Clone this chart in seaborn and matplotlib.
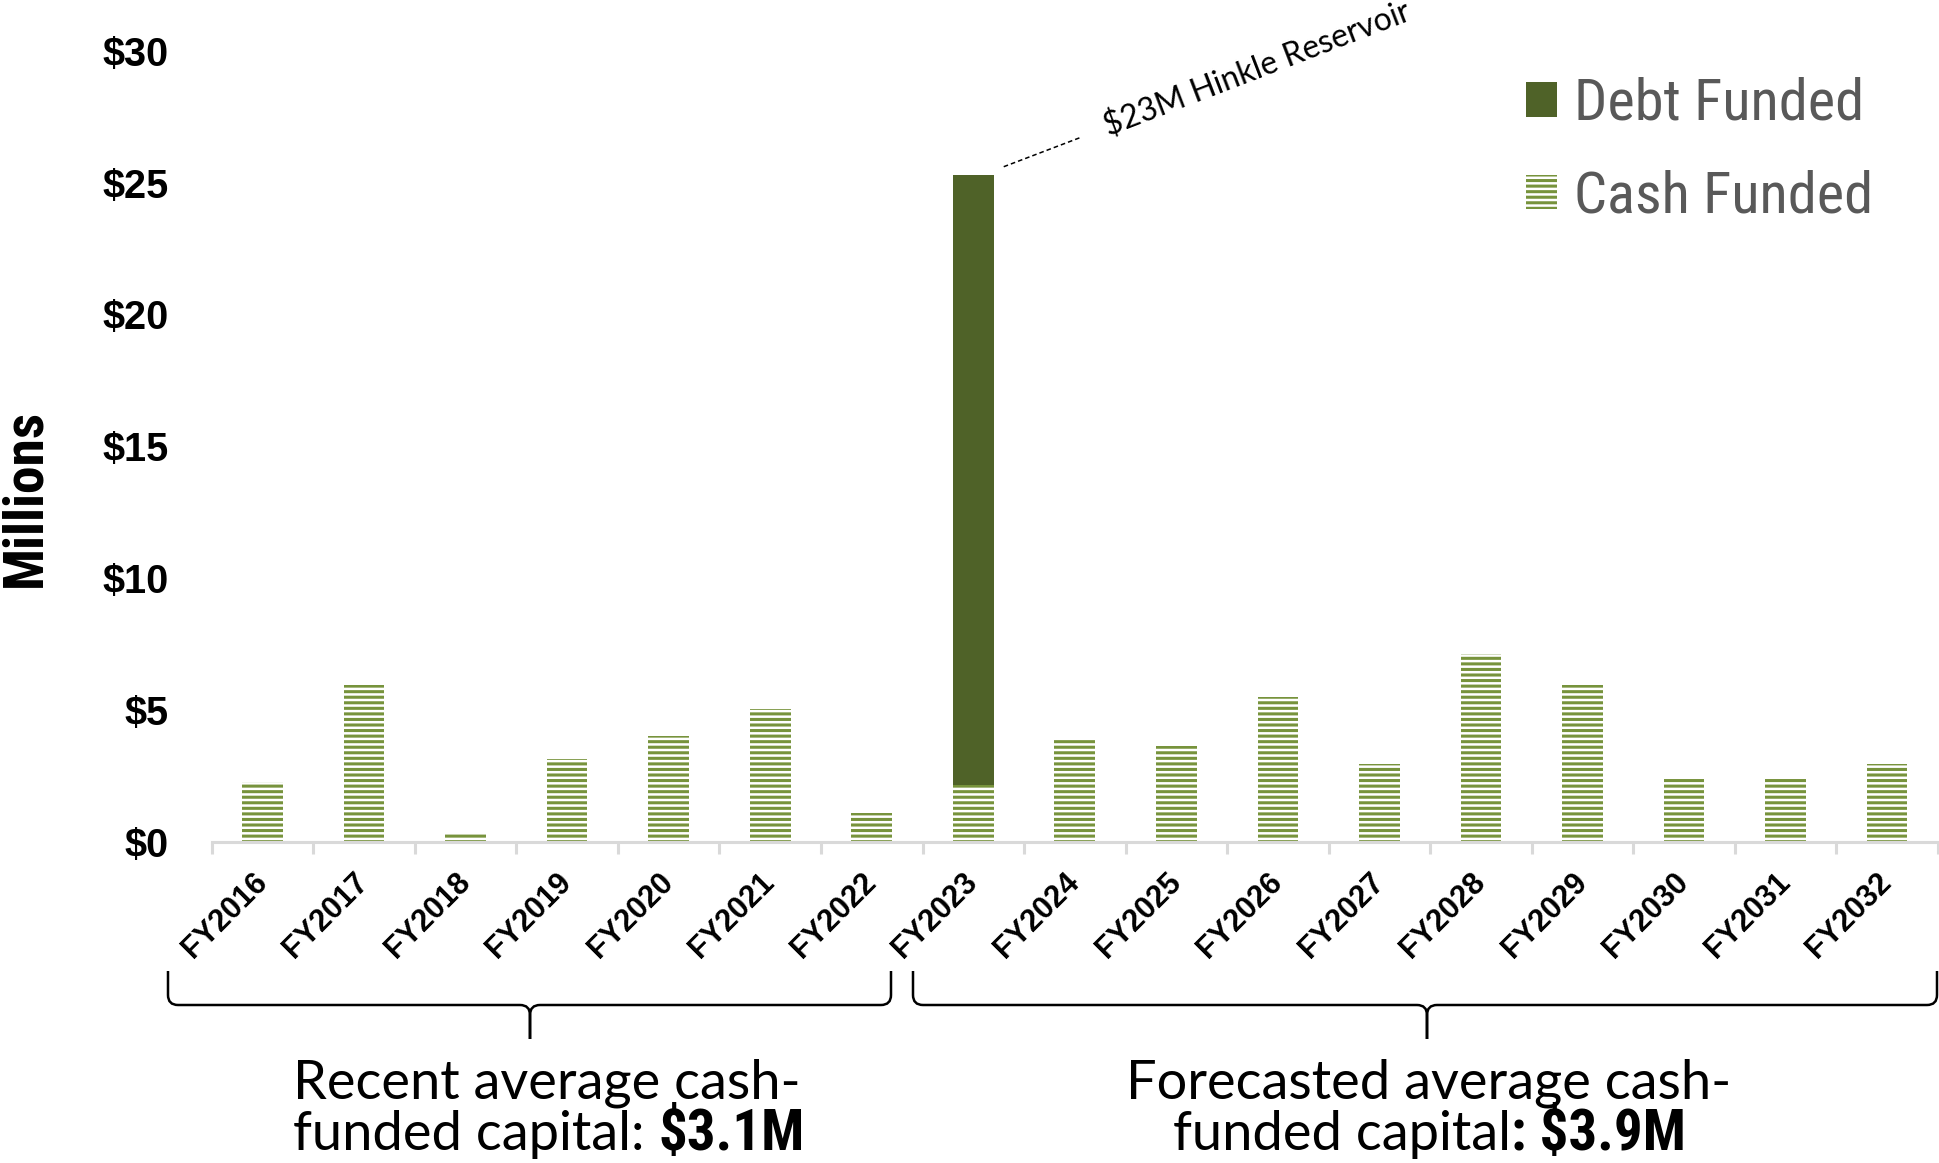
import numpy as np
import pandas as pd
import matplotlib
matplotlib.use("Agg")
import matplotlib.pyplot as plt
import seaborn as sns
from matplotlib import font_manager as fm
from matplotlib.font_manager import FontProperties
from matplotlib.patches import Patch, PathPatch
from matplotlib.path import Path

# ---------------- data ----------------
years = ["FY2016", "FY2017", "FY2018", "FY2019", "FY2020", "FY2021", "FY2022",
         "FY2023", "FY2024", "FY2025", "FY2026", "FY2027", "FY2028", "FY2029",
         "FY2030", "FY2031", "FY2032"]
cash_funded = [2.25, 5.94, 0.33, 3.14, 4.02, 5.02, 1.09,
               2.14, 3.90, 3.62, 5.49, 2.93, 7.11, 5.93, 2.44, 2.44, 2.93]
debt_funded = [0, 0, 0, 0, 0, 0, 0,
               23.16, 0, 0, 0, 0, 0, 0, 0, 0, 0]
y_ticks = [0, 5, 10, 15, 20, 25, 30]
y_tick_labels = ["$0", "$5", "$10", "$15", "$20", "$25", "$30"]
annotation_text = "$23M Hinkle Reservoir"
legend_labels = ["Debt Funded", "Cash Funded"]
recent_avg = "$3.1M"
forecast_avg = "$3.9M"

DEBT_COLOR = "#4f6228"
CASH_COLOR = "#77933c"

# ---------------- style ----------------
sns.set_theme(style="white")
plt.rcParams["font.family"] = ["Liberation Sans", "DejaVu Sans"]
plt.rcParams["hatch.linewidth"] = 2.2
plt.rcParams["hatch.color"] = CASH_COLOR

names = {f.name for f in fm.fontManager.ttflist}
GEO = ["Lato", "DejaVu Sans"] if "Lato" in names else ["DejaVu Sans"]


def find_condensed(bold):
    cands = []
    for f in fm.fontManager.ttflist:
        cond = ("Narrow" in f.name or "Condensed" in f.name
                or f.stretch in ("condensed", "semi-condensed", "extra-condensed")
                or (isinstance(f.stretch, int) and f.stretch <= 87))
        if not cond or f.style != "normal":
            continue
        w = f.weight if isinstance(f.weight, int) else (700 if f.weight == "bold" else 400)
        if bold and w < 600:
            continue
        if not bold and (w >= 600 or w < 350):
            continue
        pri = 0 if "Liberation" in f.name else (1 if "Roboto" in f.name else 2)
        cands.append((pri, f.fname))
    cands.sort()
    return cands[0][1] if cands else None


cond_bold = find_condensed(True)
cond_reg = find_condensed(False)


def fp_bold(size, fallback_size):
    if cond_bold:
        return FontProperties(fname=cond_bold, size=size)
    return FontProperties(family="Liberation Sans", weight="bold", size=fallback_size)


def fp_reg(size, fallback_size):
    if cond_reg:
        return FontProperties(fname=cond_reg, size=size)
    return FontProperties(family="Liberation Sans", size=fallback_size)


W, H = 1940, 1163
fig = plt.figure(figsize=(W / 100, H / 100), dpi=100)
ax = fig.add_axes([211.8 / W, 1 - 841.7 / H, 1726 / W, (841.7 - 50.7) / H])

df = pd.DataFrame({"year": years, "cash": cash_funded, "debt": debt_funded})
df["debt_top"] = np.where(df["debt"] > 0, df["cash"] + df["debt"], 0.0)

sns.barplot(data=df, x="year", y="debt_top", order=years, color=DEBT_COLOR,
            saturation=1, width=0.4, linewidth=0, ax=ax)
sns.barplot(data=df, x="year", y="cash", order=years, color="white",
            saturation=1, width=0.4, linewidth=0, edgecolor=CASH_COLOR,
            hatch="---", ax=ax)

ax.set_xlim(-0.5, len(years) - 0.5)
ax.set_ylim(0, 30)
ax.set_xlabel("")
ax.set_ylabel("")
for s in ["top", "right", "left"]:
    ax.spines[s].set_visible(False)
ax.spines["bottom"].set_color("#d9d9d9")
ax.spines["bottom"].set_linewidth(2.2)

ax.set_yticks(y_ticks)
ax.set_yticklabels(y_tick_labels, fontsize=28.5, fontweight="bold", color="black")
ax.tick_params(axis="y", length=0, pad=31)

ax.set_xticks(range(len(years)))
ax.set_xticklabels(years, fontsize=22, fontweight="bold", color="black")
ax.tick_params(axis="x", which="major", length=0, pad=26)
for lab in ax.get_xticklabels():
    lab.set_rotation(45)
    lab.set_ha("right")
    lab.set_va("center")
    lab.set_rotation_mode("anchor")
ax.set_xticks(np.arange(-0.5, len(years), 1), minor=True)
ax.tick_params(axis="x", which="minor", length=8.6, width=2.2, color="#d9d9d9",
               direction="out", bottom=True)
ax.grid(False)

# y-axis title
fig.text(25 / W, 1 - 498 / H, "Millions", rotation=90, ha="center", va="center",
         fontproperties=fp_bold(40, 34), color="black")

# annotation for the debt-funded bar
idx = int(np.argmax(df["debt"].values))
top = df["cash"][idx] + df["debt"][idx]
ax.plot([idx + 0.3, idx + 1.05], [top + 0.3, top + 1.4], ls=(0, (3, 2)),
        color="black", lw=1.1, clip_on=False)
ax.text(idx + 2.8, top + 4.0, annotation_text, rotation=21, rotation_mode="anchor",
        ha="center", va="center", fontsize=23, family=GEO, color="black", clip_on=False)

# legend
handles = [Patch(facecolor=DEBT_COLOR, edgecolor="none", linewidth=0),
           Patch(facecolor="white", edgecolor=CASH_COLOR, hatch="---", linewidth=0)]
leg_fp = fp_reg(42, 36)
fs = leg_fp.get_size_in_points()
fig.legend(handles, legend_labels, loc="upper left",
           bbox_to_anchor=(1526 / W, 1 - 77 / H), frameon=False,
           prop=leg_fp, labelcolor="#595959",
           handlelength=22.3 / fs, handleheight=22.3 / fs,
           handletextpad=0.3, labelspacing=27.0 / fs, borderpad=0, borderaxespad=0)


# braces
def px(x, y):
    return (x / W, 1 - y / H)


def brace(x0, x1, xc, ytop, yline, ytip, r=10):
    verts = [px(x0, ytop), px(x0, yline - r), px(x0, yline), px(x0 + r, yline),
             px(xc - r, yline), px(xc, yline), px(xc, yline + r), px(xc, ytip),
             px(xc, ytip), px(xc, yline + r), px(xc, yline), px(xc + r, yline),
             px(x1 - r, yline), px(x1, yline), px(x1, yline - r), px(x1, ytop)]
    codes = [Path.MOVETO, Path.LINETO, Path.CURVE3, Path.CURVE3,
             Path.LINETO, Path.CURVE3, Path.CURVE3, Path.LINETO,
             Path.MOVETO, Path.LINETO, Path.CURVE3, Path.CURVE3,
             Path.LINETO, Path.CURVE3, Path.CURVE3, Path.LINETO]
    fig.add_artist(PathPatch(Path(verts, codes), transform=fig.transFigure,
                             fill=False, lw=1.8, edgecolor="black",
                             capstyle="butt"))


brace(168, 891, 530, 971, 1005, 1039)
brace(913, 1937, 1427, 971, 1005, 1039)

# bottom summary texts
GEO_SIZE = 39
fig.canvas.draw()
renderer = fig.canvas.get_renderer()


def mixed_line(cx, ybase, parts):
    texts = []
    for s, bold in parts:
        if bold:
            t = fig.text(0, 1 - ybase / H, s, fontproperties=fp_bold(41, 37),
                         va="baseline", ha="left", color="black")
        else:
            t = fig.text(0, 1 - ybase / H, s, fontsize=GEO_SIZE, family=GEO,
                         va="baseline", ha="left", color="black")
        texts.append(t)
    widths = [t.get_window_extent(renderer).width for t in texts]
    x = cx - sum(widths) / 2
    for t, w in zip(texts, widths):
        t.set_x(x / W)
        x += w


mixed_line(547, 1098, [("Recent average cash-", False)])
mixed_line(549, 1150, [("funded capital: ", False), (recent_avg, True)])
mixed_line(1429, 1098, [("Forecasted average cash-", False)])
mixed_line(1429, 1150, [("funded capital", False), (": " + forecast_avg, True)])

fig.savefig("out.png", dpi=100)
